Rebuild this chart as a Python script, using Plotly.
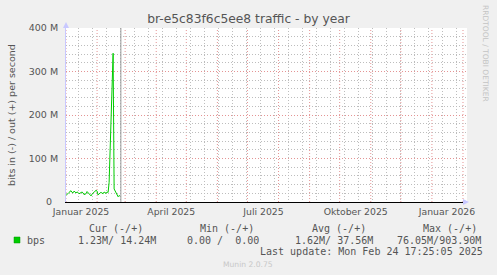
import plotly.graph_objects as go
import pandas as pd

# ---------------- data ----------------
start_date = "2025-01-01"
# daily "out" traffic in Mbit/s
out_mbps = [15, 18, 21, 22, 24, 26, 22, 21, 25, 23,
            21, 23, 22, 19, 21, 22, 23, 21, 17, 18,
            19, 24, 22, 19, 17, 14, 18, 21, 24, 25,
            27, 25, 16, 19, 21, 22, 20, 19, 23, 21,
            20, 23, 22, 45, 130, 220, 300, 342, 30, 25,
            21, 14, 12, 15, 13]
now_time = "2025-02-24 17:25:05"

y_tick_values = [0, 100e6, 200e6, 300e6, 400e6]
y_tick_labels = ["0\u00a0\u00a0", "100 M", "200 M", "300 M", "400 M"]
x_tick_dates = ["2025-01-16", "2025-04-16", "2025-07-17", "2025-10-17", "2026-01-16"]
x_tick_labels = ["Januar 2025", "April 2025", "Juli 2025", "Oktober 2025", "Januar 2026"]

legend_headers = ["Cur (-/+)", "Min (-/+)", "Avg (-/+)", "Max (-/+)"]
legend_name = "bps"
legend_values = ["1.23M/ 14.24M", "0.00 /  0.00", "1.62M/ 37.56M", "76.05M/903.90M"]
last_update = "Last update: Mon Feb 24 17:25:05 2025"

title = "br-e5c83f6c5ee8 traffic - by year"
y_title = "bits in (-) / out (+) per second"

# ---------------- layout helpers ----------------
W, H = 497, 275
L, R, T, B = 66, 467, 28, 202


def px(xp):
    return (xp - L) / (R - L)


def py(yp):
    return (B - yp) / (B - T)


dates = pd.date_range(start_date, periods=len(out_mbps), freq="D")
values = [v * 1e6 for v in out_mbps]

x_start = pd.Timestamp("2025-01-01")
x_end = x_start + pd.Timedelta(days=400)

GREEN = "#00cc00"
TXT = "#555555"
RED_GRID = "#e49494"
GRAY_GRID = "#bdbdbd"
DOT = "1px,2px"

fig = go.Figure()
fig.add_trace(go.Scatter(x=dates, y=values, mode="lines",
                         line=dict(color=GREEN, width=1),
                         hoverinfo="skip", showlegend=False))

shapes = []
# monthly major grid (red dotted)
for m in pd.date_range("2025-01-01", x_end, freq="MS"):
    shapes.append(dict(type="line", xref="x", yref="paper", x0=m, x1=m, y0=0, y1=1,
                       line=dict(color=RED_GRID, width=1, dash=DOT), layer="below"))
# "now" rule
shapes.append(dict(type="line", xref="x", yref="paper", x0=now_time, x1=now_time,
                   y0=0, y1=1, line=dict(color="#999999", width=1), layer="above"))
# axis arrows
shapes.append(dict(type="path", xref="paper", yref="paper",
                   path=f"M {px(63)} {py(28)} L {px(69)} {py(28)} L {px(66)} {py(22)} Z",
                   fillcolor="#c8c8ff", line=dict(width=0)))
shapes.append(dict(type="path", xref="paper", yref="paper",
                   path=f"M {px(463)} {py(199)} L {px(463)} {py(205)} L {px(469)} {py(202)} Z",
                   fillcolor="#c8c8ff", line=dict(width=0)))
# legend colour box
shapes.append(dict(type="rect", xref="paper", yref="paper",
                   x0=px(14), x1=px(20), y0=py(243), y1=py(237),
                   fillcolor=GREEN, line=dict(color="#009900", width=0.5)))

ann = []
mono = dict(family="DejaVu Sans Mono", size=10, color=TXT)


def add_text(text, x, y, xanchor="left", font=None, angle=0):
    ann.append(dict(text=text, x=px(x), y=py(y), xref="paper", yref="paper",
                    xanchor=xanchor, yanchor="middle", showarrow=False,
                    font=font or mono, textangle=angle, borderpad=0, borderwidth=0))


for txt, xl in zip(legend_headers, [89, 200, 312, 423]):
    add_text(txt, xl, 228.5)
add_text(legend_name, 27, 240)
for txt, xl in zip(legend_values, [78, 187, 295, 397]):
    add_text(txt, xl, 240)
add_text(last_update, 483, 251.5, xanchor="right")
add_text("Munin 2.0.75", 248, 264, xanchor="center",
         font=dict(family="DejaVu Sans", size=7.6, color="#c8c8c8"))
add_text("RRDTOOL / TOBI OETIKER", 486, 53, xanchor="center",
         font=dict(family="DejaVu Sans", size=7.5, color="#c4c4c4"), angle=90)
add_text(y_title, 11, 115, xanchor="center",
         font=dict(family="DejaVu Sans", size=9.5, color=TXT), angle=-90)

fig.update_layout(
    width=W, height=H,
    margin=dict(l=L, r=W - R, t=T, b=H - B, pad=0),
    paper_bgcolor="#f0f0f0", plot_bgcolor="white",
    title=dict(text=title, x=0.5, xanchor="center", y=1 - 19 / H, yanchor="middle",
               font=dict(family="DejaVu Sans", size=12.3, color=TXT)),
    shapes=shapes, annotations=ann, showlegend=False,
    xaxis=dict(type="date", range=[x_start, x_end], tickmode="array",
               tickvals=x_tick_dates, ticktext=x_tick_labels, showgrid=False,
               ticks="", tickfont=dict(family="DejaVu Sans", size=9.3, color=TXT),
               ticklabelstandoff=1,
               showline=True, linecolor="black", linewidth=1, zeroline=False,
               minor=dict(tickmode="array",
                          tickvals=list(pd.date_range("2025-01-13", x_end, freq="14D")),
                          showgrid=True, gridcolor=GRAY_GRID, griddash=DOT, gridwidth=1),
               fixedrange=True),
    yaxis=dict(range=[0, 400e6], tickmode="array", tickvals=y_tick_values,
               ticktext=y_tick_labels, showgrid=True, gridcolor=RED_GRID,
               griddash=DOT, gridwidth=1, ticks="", ticklabelstandoff=5,
               tickfont=dict(family="DejaVu Sans", size=9.5, color=TXT),
               showline=True, linecolor="#c8c8ff", linewidth=1, zeroline=False,
               minor=dict(tickmode="linear", tick0=0, dtick=20e6, showgrid=True,
                          gridcolor=GRAY_GRID, griddash=DOT, gridwidth=1),
               fixedrange=True),
)

fig.write_html("out.html", config={"displayModeBar": False})
